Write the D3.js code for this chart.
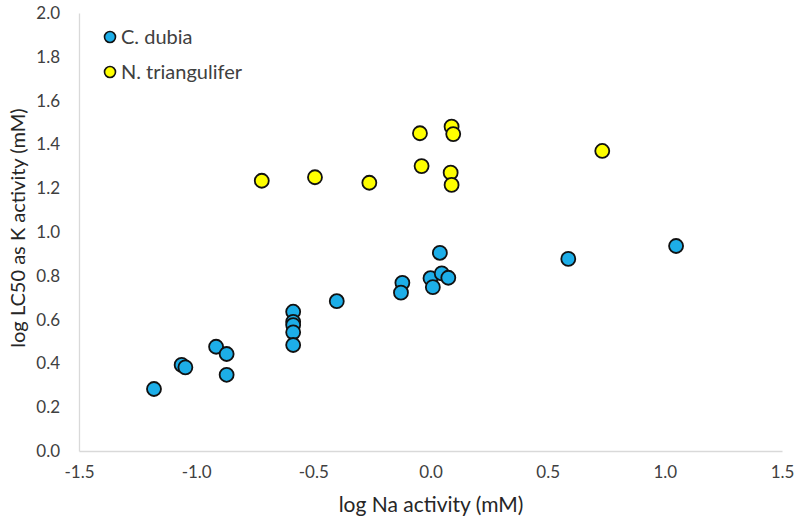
<!DOCTYPE html>
<html><head><meta charset="utf-8">
<script src="https://cdn.jsdelivr.net/npm/d3@7"></script>
<style>body{margin:0;background:#fff;} text{font-family:Lato,"Open Sans",sans-serif;}</style>
</head><body><svg id="c" width="800" height="525"></svg>
<script>
const dubiaX = [-1.18,-1.062,-1.046,-0.915,-0.87,-0.87,-0.586,-0.586,-0.586,-0.586,-0.586,-0.40,-0.12,-0.126,0.0,0.01,0.048,0.076,0.04,0.588,1.048];
const dubiaY = [0.283,0.393,0.382,0.476,0.443,0.348,0.636,0.59,0.575,0.542,0.484,0.684,0.768,0.723,0.789,0.748,0.811,0.791,0.905,0.877,0.936];
const triX = [-0.72,-0.493,-0.261,-0.038,0.086,0.09,0.733,-0.045,0.09,0.097];
const triY = [1.234,1.250,1.225,1.301,1.271,1.215,1.370,1.451,1.481,1.447];
const xTicks = [-1.5,-1.0,-0.5,0.0,0.5,1.0,1.5];
const yTicks = [0.0,0.2,0.4,0.6,0.8,1.0,1.2,1.4,1.6,1.8,2.0];
const seriesNames = ["C. dubia","N. triangulifer"];
const seriesColors = ["#1DAEE8","#FFFF00"];

const svg = d3.select("#c");
const x = d3.scaleLinear().domain([-1.5,1.5]).range([79,782]);
const y = d3.scaleLinear().domain([0,2]).range([451,13]);
const fmt = d => d.toFixed(1);

const xAxis = svg.append("g").attr("transform",`translate(0,${y(0)})`)
  .call(d3.axisBottom(x).tickValues(xTicks).tickFormat(fmt).tickSize(0).tickPadding(15));
const yAxis = svg.append("g").attr("transform",`translate(${x(-1.5)},0)`)
  .call(d3.axisLeft(y).tickValues(yTicks).tickFormat(fmt).tickSize(0).tickPadding(19));
[xAxis,yAxis].forEach(g=>{
  g.select(".domain").attr("stroke","#d9d9d9").attr("stroke-width",1.3);
  g.selectAll("text").attr("font-size",17).attr("fill","#404040").attr("font-family","Lato,sans-serif");
});

svg.append("text").attr("x",431).attr("y",512).attr("text-anchor","middle")
  .attr("font-size",21).attr("fill","#262626").text("log Na activity (mM)");
svg.append("text").attr("transform","translate(25,228) rotate(-90)").attr("text-anchor","middle")
  .attr("font-size",20).attr("fill","#262626").text("log LC50 as K activity (mM)");

const series = [d3.zip(dubiaX,dubiaY), d3.zip(triX,triY)];
series.forEach((pts,i)=>{
  svg.append("g").selectAll("circle").data(pts).join("circle")
    .attr("cx",d=>x(d[0])).attr("cy",d=>y(d[1])).attr("r",7)
    .attr("fill",seriesColors[i]).attr("stroke","#111").attr("stroke-width",1.8);
});

const leg = svg.append("g");
seriesNames.forEach((n,i)=>{
  leg.append("circle").attr("cx",110).attr("cy",37+i*35).attr("r",5.5)
    .attr("fill",seriesColors[i]).attr("stroke","#111").attr("stroke-width",1.6);
  leg.append("text").attr("x",121).attr("y",37+i*35).attr("dy","0.35em")
    .attr("font-size",20).attr("fill","#404040").text(n);
});
</script></body></html>
